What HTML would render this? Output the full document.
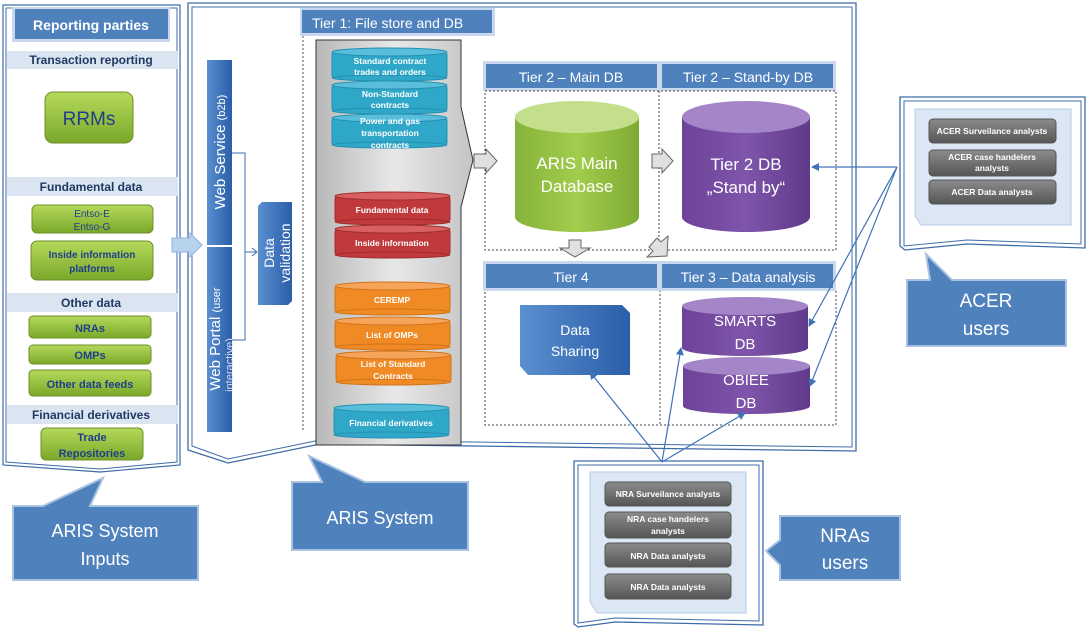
<!DOCTYPE html>
<html><head><meta charset="utf-8"><style>
html,body{margin:0;padding:0;background:#fff;}
svg{display:block;font-family:"Liberation Sans",sans-serif;}
</style></head><body>
<svg width="1090" height="630" viewBox="0 0 1090 630" xmlns="http://www.w3.org/2000/svg">
<defs>
<linearGradient id="gr" x1="0" y1="0" x2="0" y2="1"><stop offset="0" stop-color="#b5d95a"/><stop offset="1" stop-color="#7aa82a"/></linearGradient>
<linearGradient id="bl" x1="0" y1="0" x2="1" y2="0"><stop offset="0" stop-color="#5a8fd0"/><stop offset="1" stop-color="#2a5ea8"/></linearGradient>
<linearGradient id="gy" x1="0" y1="0" x2="1" y2="0"><stop offset="0" stop-color="#b8b8b8"/><stop offset="0.5" stop-color="#e8e8e8"/><stop offset="1" stop-color="#c4c4c4"/></linearGradient>
<linearGradient id="bt" x1="0" y1="0" x2="0" y2="1"><stop offset="0" stop-color="#8c8c8c"/><stop offset="1" stop-color="#555"/></linearGradient>
<linearGradient id="gcyl" x1="0" y1="0" x2="1" y2="0"><stop offset="0" stop-color="#86b33a"/><stop offset="0.5" stop-color="#a2cc4c"/><stop offset="1" stop-color="#7eaa34"/></linearGradient>
<linearGradient id="pcyl" x1="0" y1="0" x2="1" y2="0"><stop offset="0" stop-color="#6c4398"/><stop offset="0.5" stop-color="#7e55aa"/><stop offset="1" stop-color="#603a8a"/></linearGradient>
<marker id="ah" markerWidth="8" markerHeight="8" refX="7" refY="4" orient="auto" markerUnits="userSpaceOnUse"><path d="M0,0 L8,4 L0,8 z" fill="#3f73b8"/></marker>
</defs>

<!-- LEFT PANEL -->
<path d="M3,5 H180 V465 L100,472 L3,465 Z" fill="#fff" stroke="#3f6ca8" stroke-width="1.2"/>
<path d="M6,8 H177 V462 L100,469 L6,462 Z" fill="none" stroke="#3f6ca8" stroke-width="1"/>
<rect x="12" y="7" width="158" height="35" fill="#c9d8ee"/>
<rect x="15" y="9" width="153" height="30" fill="#4f81bd"/>
<text x="91" y="30" fill="#fff" font-size="14" font-weight="bold" text-anchor="middle">Reporting parties</text>
<g font-size="12" font-weight="bold" fill="#1f3864" text-anchor="middle">
<rect x="7" y="51" width="171" height="18" fill="#dbe5f1"/><text x="91" y="64">Transaction reporting</text>
<rect x="7" y="177" width="171" height="19" fill="#dbe5f1"/><text x="91" y="191">Fundamental data</text>
<rect x="7" y="293" width="171" height="19" fill="#dbe5f1"/><text x="91" y="307">Other data</text>
<rect x="7" y="405" width="171" height="19" fill="#dbe5f1"/><text x="91" y="419">Financial derivatives</text>
</g>
<g stroke="#6f8f2a" stroke-width="1">
<rect x="45" y="92" width="88" height="51" rx="8" fill="url(#gr)"/>
<rect x="32" y="205" width="121" height="28" rx="5" fill="url(#gr)"/>
<rect x="31" y="241" width="122" height="39" rx="6" fill="url(#gr)"/>
<rect x="29" y="316" width="122" height="22" rx="4" fill="url(#gr)"/>
<rect x="29" y="345" width="122" height="19" rx="4" fill="url(#gr)"/>
<rect x="29" y="370" width="122" height="26" rx="4" fill="url(#gr)"/>
<rect x="41" y="428" width="102" height="32" rx="5" fill="url(#gr)"/>
</g>
<g fill="#1f3f8a" text-anchor="middle" font-weight="bold">
<text x="89" y="125" font-size="19" font-weight="normal">RRMs</text>
<text x="92" y="217" font-size="10" font-weight="normal">Entso-E</text>
<text x="92" y="230" font-size="10" font-weight="normal">Entso-G</text>
<text x="92" y="258" font-size="10">Inside information</text>
<text x="92" y="272" font-size="10">platforms</text>
<text x="90" y="332" font-size="11">NRAs</text>
<text x="90" y="359" font-size="11">OMPs</text>
<text x="90" y="388" font-size="11">Other data feeds</text>
<text x="92" y="441" font-size="11">Trade</text>
<text x="92" y="457" font-size="11">Repositories</text>
</g>

<!-- MAIN ARIS BOX -->
<path d="M188,3 H856 V451 L320,444 L228,463 L188,450 Z" fill="#fff" stroke="#3f6ca8" stroke-width="1.3"/>
<path d="M192,7 H852 V447 L320,440 L228,459 L192,446 Z" fill="none" stroke="#3f6ca8" stroke-width="1"/>
<path d="M172,238 H190 V233 L202,245 L190,257 V252 H172 Z" fill="#b8d3ee" stroke="#8fb3da"/>

<rect x="207" y="60" width="25" height="185" fill="url(#bl)"/>
<rect x="207" y="247" width="25" height="185" fill="url(#bl)"/>
<text transform="translate(225,152) rotate(-90)" fill="#fff" font-size="15" text-anchor="middle">Web Service <tspan font-size="11">(b2b)</tspan></text>
<text transform="translate(220,339) rotate(-90)" fill="#fff" font-size="15" text-anchor="middle">Web Portal <tspan font-size="11">(user</tspan></text>
<text transform="translate(233,365) rotate(-90)" fill="#dde" font-size="11" text-anchor="middle">interactive)</text>
<path d="M232,153 H245 V340 H232 M245,252 H257" fill="none" stroke="#3f6ca8"/>
<path d="M252,248 L257,252 L252,256" fill="none" stroke="#3f6ca8"/>
<path d="M262,202 H292 V301 L288,305 H258 V206 Z" fill="url(#bl)"/>
<text transform="translate(274,253) rotate(-90)" fill="#fff" font-size="14" text-anchor="middle">Data</text>
<text transform="translate(290,253) rotate(-90)" fill="#fff" font-size="14" text-anchor="middle">validation</text>

<!-- Tier 1 -->
<rect x="300" y="8" width="195" height="28" fill="#c9d8ee"/>
<rect x="302" y="10" width="190" height="23" fill="#4f81bd"/>
<text x="312" y="28" fill="#fff" font-size="14">Tier 1: File store and DB</text>
<line x1="303" y1="36" x2="303" y2="430" stroke="#555" stroke-dasharray="2,2"/>
<path d="M316,40 H461 V107 L473,160 L461,207 V445 H316 Z" fill="url(#gy)" stroke="#333"/>
<g font-size="8.5" font-weight="bold" fill="#fff" text-anchor="middle">
<g fill="#2fa7c8" stroke="#2590b0"><rect x="332" y="52" width="115" height="26" rx="3"/><ellipse cx="389.5" cy="52" rx="57.5" ry="4" fill="#58bedb"/><ellipse cx="389.5" cy="78" rx="57.5" ry="3"/></g>
<text x="390" y="64">Standard contract</text><text x="390" y="75">trades and orders</text>
<g fill="#2fa7c8" stroke="#2590b0"><rect x="332" y="85" width="115" height="26" rx="3"/><ellipse cx="389.5" cy="85" rx="57.5" ry="4" fill="#58bedb"/><ellipse cx="389.5" cy="111" rx="57.5" ry="3"/></g>
<text x="390" y="97">Non-Standard</text><text x="390" y="108">contracts</text>
<g fill="#2fa7c8" stroke="#2590b0"><rect x="332" y="118" width="115" height="27" rx="3"/><ellipse cx="389.5" cy="118" rx="57.5" ry="4" fill="#58bedb"/><ellipse cx="389.5" cy="145" rx="57.5" ry="3"/></g>
<text x="390" y="124">Power and gas</text><text x="390" y="136">transportation</text><text x="390" y="148">contracts</text>
<g fill="#c0393b" stroke="#a02b2d"><rect x="335" y="196" width="115" height="26" rx="3"/><ellipse cx="392.5" cy="196" rx="57.5" ry="4" fill="#d86062"/><ellipse cx="392.5" cy="222" rx="57.5" ry="3"/></g>
<text x="392" y="213">Fundamental data</text>
<g fill="#c0393b" stroke="#a02b2d"><rect x="335" y="229" width="115" height="26" rx="3"/><ellipse cx="392.5" cy="229" rx="57.5" ry="4" fill="#d86062"/><ellipse cx="392.5" cy="255" rx="57.5" ry="3"/></g>
<text x="392" y="246">Inside information</text>
<g fill="#f08a24" stroke="#d0721a"><rect x="335" y="286" width="115" height="26" rx="3"/><ellipse cx="392.5" cy="286" rx="57.5" ry="4" fill="#f6a45a"/><ellipse cx="392.5" cy="312" rx="57.5" ry="3"/></g>
<text x="392" y="303">CEREMP</text>
<g fill="#f08a24" stroke="#d0721a"><rect x="335" y="321" width="115" height="26" rx="3"/><ellipse cx="392.5" cy="321" rx="57.5" ry="4" fill="#f6a45a"/><ellipse cx="392.5" cy="347" rx="57.5" ry="3"/></g>
<text x="392" y="338">List of OMPs</text>
<g fill="#f08a24" stroke="#d0721a"><rect x="336" y="355" width="115" height="27" rx="3"/><ellipse cx="393.5" cy="355" rx="57.5" ry="4" fill="#f6a45a"/><ellipse cx="393.5" cy="382" rx="57.5" ry="3"/></g>
<text x="393" y="367">List of Standard</text><text x="393" y="379">Contracts</text>
<g fill="#2fa7c8" stroke="#2590b0"><rect x="334" y="408" width="115" height="27" rx="3"/><ellipse cx="391.5" cy="408" rx="57.5" ry="4" fill="#58bedb"/><ellipse cx="391.5" cy="435" rx="57.5" ry="3"/></g>
<text x="391" y="426">Financial derivatives</text>
</g>

<!-- Tier 2/3/4 -->
<rect x="483" y="61" width="353" height="30" fill="#c9d8ee"/>
<rect x="486" y="64" width="171" height="24" fill="#4f81bd"/>
<rect x="662" y="64" width="171" height="24" fill="#4f81bd"/>
<text x="571" y="82" fill="#fff" font-size="14" text-anchor="middle">Tier 2 – Main DB</text>
<text x="748" y="82" fill="#fff" font-size="14" text-anchor="middle">Tier 2 – Stand-by DB</text>
<g fill="none" stroke="#444" stroke-dasharray="2,2">
<rect x="485" y="91" width="351" height="159"/>
<line x1="659" y1="91" x2="659" y2="250"/>
<rect x="485" y="290" width="351" height="135"/>
<line x1="660" y1="290" x2="660" y2="425"/>
</g>
<rect x="483" y="261" width="353" height="30" fill="#c9d8ee"/>
<rect x="486" y="264" width="171" height="24" fill="#4f81bd"/>
<rect x="662" y="264" width="171" height="24" fill="#4f81bd"/>
<text x="571" y="282" fill="#fff" font-size="14" text-anchor="middle">Tier 4</text>
<text x="748" y="282" fill="#fff" font-size="14" text-anchor="middle">Tier 3 – Data analysis</text>

<!-- green cylinder -->
<path d="M515,117 V217 A62,15 0 0 0 639,217 V117 Z" fill="url(#gcyl)"/>
<ellipse cx="577" cy="117" rx="62" ry="16" fill="#c4df8c"/>
<text x="577" y="169" fill="#fff" font-size="17" text-anchor="middle">ARIS Main</text>
<text x="577" y="192" fill="#fff" font-size="17" text-anchor="middle">Database</text>
<!-- purple cylinder -->
<path d="M682,117 V217 A64,15 0 0 0 810,217 V117 Z" fill="url(#pcyl)"/>
<ellipse cx="746" cy="117" rx="64" ry="16" fill="#a486c8"/>
<text x="746" y="170" fill="#fff" font-size="17" text-anchor="middle">Tier 2 DB</text>
<text x="746" y="193" fill="#fff" font-size="17" text-anchor="middle">„Stand by“</text>

<!-- gray block arrows -->
<g fill="#e0e0e0" stroke="#666">
<path d="M474,154 H486 V149 L497,161 L486,173 V168 H474 Z"/>
<path d="M652,154 H662 V149 L673,161 L662,173 V168 H652 Z"/>
<path d="M569,240 H581 V248 H590 L575,257 L560,248 H569 Z"/>
<path d="M649,247 L657,238 L661,242 L668,236 L667,256 L647,257 L653,251 Z"/>
</g>

<!-- SMARTS -->
<path d="M682,306 V348 A63,8 0 0 0 808,348 V306 Z" fill="url(#pcyl)"/>
<ellipse cx="745" cy="306" rx="63" ry="9" fill="#a486c8"/>
<text x="745" y="326" fill="#fff" font-size="15" text-anchor="middle">SMARTS</text>
<text x="745" y="349" fill="#fff" font-size="15" text-anchor="middle">DB</text>
<!-- OBIEE -->
<path d="M683,366 V406 A63,8 0 0 0 810,406 V366 Z" fill="url(#pcyl)"/>
<ellipse cx="746.5" cy="366" rx="63.5" ry="9" fill="#a486c8"/>
<text x="746" y="385" fill="#fff" font-size="15" text-anchor="middle">OBIEE</text>
<text x="746" y="408" fill="#fff" font-size="15" text-anchor="middle">DB</text>
<!-- Data sharing -->
<path d="M520,305 H622 L630,313 V375 H528 L520,366 Z" fill="url(#bl)"/>
<text x="575" y="335" fill="#fff" font-size="14" text-anchor="middle">Data</text>
<text x="575" y="356" fill="#fff" font-size="14" text-anchor="middle">Sharing</text>

<!-- ACER box -->
<path d="M900,97 H1085 V248 L967,244 L905,250 L900,246 Z" fill="#fff" stroke="#3f6ca8" stroke-width="1.3"/>
<path d="M904,101 H1081 V244 L967,240 L904,246 Z" fill="none" stroke="#3f6ca8"/>
<path d="M915,109 H1071 V225 H921 L915,216 Z" fill="#dbe7f5" stroke="#b5cbe6"/>
<g fill="url(#bt)" stroke="#555">
<rect x="929" y="119" width="127" height="24" rx="4"/>
<rect x="929" y="150" width="127" height="26" rx="4"/>
<rect x="929" y="180" width="127" height="24" rx="4"/>
</g>
<g fill="#fff" font-size="8.5" font-weight="bold" text-anchor="middle">
<text x="992" y="134">ACER Surveilance analysts</text>
<text x="992" y="160">ACER case handelers</text>
<text x="992" y="171">analysts</text>
<text x="992" y="195">ACER Data analysts</text>
</g>
<path d="M926,254 L952,280 H1066 V346 H907 V280 H930 Z" fill="#4f81bd" stroke="#a9c2e2" stroke-width="2"/>
<text x="986" y="307" fill="#fff" font-size="19" text-anchor="middle">ACER</text>
<text x="986" y="335" fill="#fff" font-size="19" text-anchor="middle">users</text>

<!-- NRA box -->
<path d="M574,461 H763 V625 L615,622 L578,627 L574,624 Z" fill="#fff" stroke="#3f6ca8" stroke-width="1.3"/>
<path d="M578,465 H759 V621 L615,618 L578,623 Z" fill="none" stroke="#3f6ca8"/>
<path d="M590,472 H746 V613 H597 L590,602 Z" fill="#dbe7f5" stroke="#b5cbe6"/>
<g fill="url(#bt)" stroke="#555">
<rect x="605" y="482" width="126" height="24" rx="4"/>
<rect x="605" y="512" width="126" height="26" rx="4"/>
<rect x="605" y="543" width="126" height="24" rx="4"/>
<rect x="605" y="574" width="126" height="25" rx="4"/>
</g>
<g fill="#fff" font-size="8.5" font-weight="bold" text-anchor="middle">
<text x="668" y="497">NRA Surveilance analysts</text>
<text x="668" y="522">NRA case handelers</text>
<text x="668" y="534">analysts</text>
<text x="668" y="559">NRA Data analysts</text>
<text x="668" y="590">NRA Data analysts</text>
</g>
<path d="M766,551 L780,540 V516 H900 V580 H780 V565 Z" fill="#4f81bd" stroke="#a9c2e2" stroke-width="2"/>
<text x="845" y="542" fill="#fff" font-size="19" text-anchor="middle">NRAs</text>
<text x="845" y="569" fill="#fff" font-size="19" text-anchor="middle">users</text>

<!-- ARIS System callouts -->
<path d="M103,478 L90,506 H198 V580 H13 V506 H43 Z" fill="#4f81bd" stroke="#a9c2e2" stroke-width="2"/>
<text x="105" y="537" fill="#fff" font-size="18" text-anchor="middle">ARIS System</text>
<text x="105" y="565" fill="#fff" font-size="18" text-anchor="middle">Inputs</text>
<path d="M309,456 L365,482 H468 V550 H292 V482 H322 Z" fill="#4f81bd" stroke="#a9c2e2" stroke-width="2"/>
<text x="380" y="524" fill="#fff" font-size="18" text-anchor="middle">ARIS System</text>

<!-- connectors -->
<g stroke="#3f73b8" stroke-width="1.2" fill="none" marker-end="url(#ah)">
<path d="M897,167 L812,167"/>
<path d="M897,167 L809,326"/>
<path d="M897,167 L810,386"/>
<path d="M662,462 L590,372"/>
<path d="M662,462 L681,348"/>
<path d="M662,462 L745,413"/>
</g>
</svg>
</body></html>
